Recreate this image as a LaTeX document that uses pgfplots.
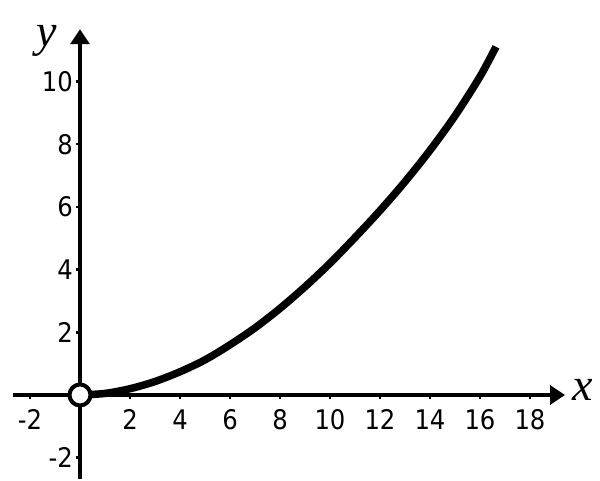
\documentclass[border=0pt]{standalone}
\usepackage{pgfplots}
\pgfplotsset{compat=1.18}
\usepackage{fontspec}
\setmainfont{DejaVu Sans Condensed}
\newfontfamily\seriffont{Liberation Serif}
\usetikzlibrary{arrows.meta}
\begin{document}
\begin{tikzpicture}
\begin{axis}[
  x=25pt, y=31.37pt,
  axis lines=middle,
  xmin=-2.69, xmax=19.4, ymin=-2.68, ymax=11.66,
  axis line style={line width=3.5pt, -{Triangle[length=15pt,width=19pt]}},
  tick style={line width=2.5pt, black},
  major tick length=4pt,
  tick align=outside,
  xtick={-2,2,4,6,8,10,12,14,16,18},
  xticklabels={-2,2,4,6,8,10,12,14,16,18},
  ytick={-2,2,4,6,8,10},
  yticklabels={-2,2,4,6,8,10},
  ticklabel style={font=\fontsize{27}{27}\selectfont, inner sep=0pt, text height=20pt, text depth=0pt},
  xticklabel style={anchor=north, yshift=-10pt},
  yticklabel style={anchor=east, xshift=-3pt},
  clip=false,
]
\coordinate (O) at (axis cs:0,0);
\addplot[line width=7.5pt, smooth, black] coordinates {
(0,0) (1,0.05) (2,0.2) (3,0.43) (4,0.74) (5,1.12) (6,1.6) (7,2.14) (8,2.76)
(9,3.45) (10,4.2) (11,5.02) (12,5.88) (13,6.8) (14,7.8) (15,8.9) (16,10.15) (16.64,11.1)
};
\addplot[only marks, mark=*, mark size=10.5pt, mark options={fill=white, draw=black, line width=4pt}] coordinates {(0,0)};
\node[font=\seriffont\itshape\fontsize{46}{46}\selectfont] at (axis cs:20.1,0.15) {x};
\node[font=\seriffont\itshape\fontsize{46}{46}\selectfont] at (axis cs:-1.35,11.3) {y};
\end{axis}
\pgfresetboundingbox
\path[use as bounding box] (O) ++(-80pt,-85pt) rectangle ++(600pt,480pt);
\end{tikzpicture}
\end{document}
